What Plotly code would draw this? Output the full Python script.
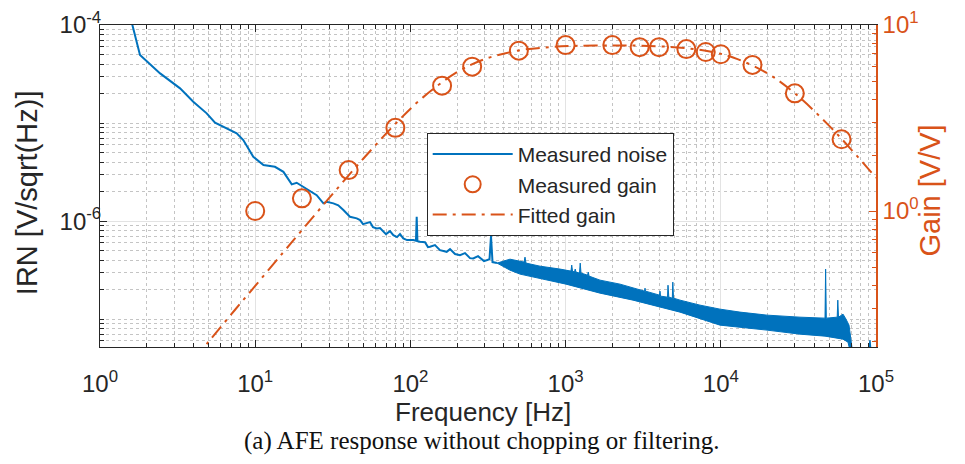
import plotly.graph_objects as go

# ---------------- data ----------------
noise_freq = [1.55, 1.62, 1.81, 2.44, 3.28, 3.99, 4.87, 5.51, 6.55, 7.60, 8.38, 9.72,
              11.3, 13.4, 15.2, 17.2, 18.5, 20.4, 24.9, 27.5, 28.9, 31.9, 34.3, 37.0,
              40.8, 45.1, 47.4, 49.5, 52.3, 54.9, 57.4, 60.7, 63.7, 66.9, 69.6, 73.9,
              77.6, 82.0, 85.7, 90.0, 95.1, 104.4, 108.6, 109.8, 111.0, 115.3, 124.2,
              129.8, 133.8, 144.0, 155.1, 171.3, 180.0, 193.9, 208.7, 224.8, 242.1,
              254.2, 272.7, 298.1, 310.1, 323.4, 330.6, 338.1, 361.4]
noise_irn = [1.3e-4, 1.0e-4, 4.94e-5, 3.21e-5, 2.26e-5, 1.65e-5, 1.256e-5, 1.007e-5,
             8.83e-6, 7.85e-6, 6.71e-6, 4.53e-6, 3.73e-6, 3.58e-6, 3.18e-6, 2.37e-6,
             2.46e-6, 2.24e-6, 1.84e-6, 1.516e-6, 1.574e-6, 1.516e-6, 1.45e-6, 1.295e-6,
             1.107e-6, 1.066e-6, 1.024e-6, 9.32e-7, 9.47e-7, 9.77e-7, 8.69e-7, 8.42e-7,
             8.48e-7, 7.78e-7, 7.37e-7, 7.91e-7, 7.20e-7, 6.87e-7, 7.37e-7, 6.66e-7,
             6.40e-7, 6.40e-7, 6.30e-7, 1.107e-6, 6.25e-7, 6.15e-7, 6.10e-7, 5.43e-7,
             5.47e-7, 5.69e-7, 5.06e-7, 4.86e-7, 5.18e-7, 4.61e-7, 4.50e-7, 4.72e-7,
             4.19e-7, 4.16e-7, 4.39e-7, 3.91e-7, 4.00e-7, 4.09e-7, 7.03e-7, 3.82e-7,
             3.73e-7]

# upper / lower edge of the dense noise band (with the visible spurs)
band_top_freq = [361.4, 438.3, 539.5, 547.5, 555.7, 684.1, 920.3, 1083, 1095, 1108,
                 1141, 1153, 1167, 1229, 1242, 1257, 1384, 1401, 1415, 1666, 2241,
                 2719, 3225, 3249, 3273, 4027, 4057, 4088, 4535, 4569, 4624, 4870,
                 4906, 4957, 5460, 7345, 9881, 13290, 19850, 32380, 46930, 47350,
                 47840, 56230, 56740, 57330, 61310, 64090, 66990, 71080]
band_top_irn = [3.73e-7, 4.09e-7, 3.82e-7, 4.29e-7, 3.73e-7, 3.47e-7, 3.24e-7, 3.09e-7,
                3.56e-7, 3.09e-7, 3.02e-7, 3.24e-7, 3.02e-7, 2.95e-7, 3.73e-7, 2.95e-7,
                2.81e-7, 3.02e-7, 2.75e-7, 2.50e-7, 2.276e-7, 2.07e-7, 1.93e-7, 2.07e-7,
                1.93e-7, 1.758e-7, 1.93e-7, 1.717e-7, 1.677e-7, 2.22e-7, 1.677e-7,
                1.638e-7, 2.385e-7, 1.638e-7, 1.563e-7, 1.39e-7, 1.265e-7, 1.18e-7,
                1.099e-7, 1.048e-7, 1.024e-7, 3.24e-7, 1.024e-7, 1.048e-7, 1.563e-7,
                1.048e-7, 1.125e-7, 1.0e-7, 8.69e-8, 4.3e-8]
band_bot_freq = [361.4, 438.3, 508.4, 1006, 1666, 2719, 5460, 9881, 19850, 32380,
                 46930, 61310, 66010, 69010]
band_bot_irn = [3.73e-7, 3.16e-7, 2.88e-7, 2.276e-7, 1.842e-7, 1.563e-7, 1.179e-7,
                8.69e-8, 7.73e-8, 7.03e-8, 6.71e-8, 6.25e-8, 5.82e-8, 4.3e-8]
noise_tail_freq = [90000, 91400, 92800]
noise_tail_irn = [4.5e-8, 6.1e-8, 4.5e-8]

gain_freq = [10, 20, 40, 80, 160, 250, 500, 1000, 2000, 3000, 4000, 6000, 8000,
             10000, 16000, 30000, 60000]
gain_meas = [1.0, 1.17, 1.66, 2.8, 4.72, 5.97, 7.28, 7.8, 7.8, 7.6, 7.6, 7.42, 7.16,
             6.96, 6.1, 4.29, 2.43]

fit_freq = [4, 5, 7, 10, 15, 20, 30, 50, 80, 120, 200, 300, 500, 800, 1200, 2000,
            3000, 5000, 8000, 12000, 20000, 30000, 50000, 70000, 100000]
fit_gain = [0.159, 0.198, 0.278, 0.396, 0.593, 0.789, 1.176, 1.922, 2.94, 4.07, 5.58,
            6.55, 7.30, 7.61, 7.73, 7.77, 7.74, 7.60, 7.27, 6.69, 5.49, 4.29, 2.87,
            2.12, 1.51]

x_tick_vals = [1, 10, 100, 1000, 10000, 100000]
x_tick_text = ["10<sup>0</sup>", "10<sup>1</sup>", "10<sup>2</sup>", "10<sup>3</sup>",
               "10<sup>4</sup>", "10<sup>5</sup>"]
yl_tick_vals = [1e-6, 1e-4]
yl_tick_text = ["10<sup>-6</sup>", "10<sup>-4</sup>"]
yr_tick_vals = [1, 10]
yr_tick_text = ["10<sup>0</sup>", "10<sup>1</sup>"]

x_title = "Frequency [Hz]"
yl_title = "IRN [V/sqrt(Hz)]"
yr_title = "Gain [V/V]"
caption = "(a) AFE response without chopping or filtering."

# ---------------- styling ----------------
BLUE = "#0072BD"
ORANGE = "#D95319"
AX = "#262626"
FONT = "Liberation Sans"

fig = go.Figure()

fig.add_trace(go.Scatter(x=noise_freq, y=noise_irn, mode="lines", name="Measured noise",
                         line=dict(color=BLUE, width=2), yaxis="y"))
fig.add_trace(go.Scatter(x=band_top_freq + band_bot_freq[::-1],
                         y=band_top_irn + band_bot_irn[::-1],
                         mode="lines", fill="toself", fillcolor=BLUE,
                         line=dict(color=BLUE, width=1), showlegend=False,
                         hoverinfo="skip", yaxis="y"))
fig.add_trace(go.Scatter(x=noise_tail_freq, y=noise_tail_irn, mode="lines",
                         line=dict(color=BLUE, width=1.5), showlegend=False,
                         hoverinfo="skip", yaxis="y"))
fig.add_trace(go.Scatter(x=gain_freq, y=gain_meas, mode="markers", name="Measured gain",
                         marker=dict(symbol="circle-open", size=18, color=ORANGE,
                                     line=dict(width=2, color=ORANGE)),
                         yaxis="y2"))
fig.add_trace(go.Scatter(x=fit_freq, y=fit_gain, mode="lines", name="Fitted gain",
                         line=dict(color=ORANGE, width=2, dash="14px,6px,3px,6px",
                                   shape="spline"),
                         yaxis="y2"))

x_minor = [k * 10 ** d for d in range(0, 5) for k in range(2, 10)]
yl_minor = [k * 10.0 ** d for d in range(-8, -4) for k in range(1, 10)
            if not (k == 1 and d in (-6,))]
yr_minor = [k * 10.0 ** d for d in range(-1, 1) for k in range(2, 10)]

# the page body adds an 8 px offset, so the figure is 8 px smaller and its
# left/top margins 8 px narrower to put the plot area at the reference position
fig.update_layout(
    width=957, height=456,
    margin=dict(l=92, r=89, t=17, b=117),
    paper_bgcolor="white", plot_bgcolor="white",
    font=dict(family=FONT, color=AX),
    showlegend=True,
    legend=dict(x=0.421, y=0.665, xanchor="left", yanchor="top",
                bgcolor="white", bordercolor=AX, borderwidth=1,
                font=dict(family=FONT, size=21, color=AX),
                itemwidth=80, tracegroupgap=0),
    xaxis=dict(type="log", range=[0, 5], tickmode="array", tickvals=x_tick_vals,
               ticktext=x_tick_text, ticks="inside", ticklen=7, tickcolor=AX,
               showline=True, linecolor=AX, linewidth=1, mirror="ticks",
               showgrid=True, gridcolor="#e3e3e3", gridwidth=1, zeroline=False,
               automargin=False, ticklabelstandoff=15,
               tickfont=dict(size=24, color=AX),
               minor=dict(tickmode="array", tickvals=x_minor, ticks="inside", ticklen=4,
                          tickcolor=AX, showgrid=True, griddash="dot",
                          gridcolor="#c4c4c4", gridwidth=1)),
    yaxis=dict(type="log", range=[-7.284, -4], tickmode="array", tickvals=yl_tick_vals,
               ticktext=yl_tick_text, ticks="inside", ticklen=7, tickcolor=AX,
               showline=True, linecolor=AX, linewidth=1,
               showgrid=True, gridcolor="#e3e3e3", gridwidth=1, zeroline=False,
               automargin=False, ticklabelstandoff=-7,
               tickfont=dict(size=24, color=AX),
               minor=dict(tickmode="array", tickvals=yl_minor, ticks="inside", ticklen=4,
                          tickcolor=AX, showgrid=True, griddash="dot",
                          gridcolor="#c4c4c4", gridwidth=1)),
    yaxis2=dict(type="log", range=[-0.731, 1], overlaying="y", side="right",
                tickmode="array", tickvals=yr_tick_vals, ticktext=yr_tick_text,
                ticks="inside", ticklen=7, tickcolor=ORANGE,
                showline=True, linecolor=ORANGE, linewidth=1.5,
                showgrid=False, zeroline=False, automargin=False,
                tickfont=dict(size=24, color=ORANGE),
                minor=dict(tickmode="array", tickvals=yr_minor, ticks="inside", ticklen=4,
                           tickcolor=ORANGE, showgrid=False)),
    annotations=[
        dict(text=x_title, xref="paper", yref="paper", x=0.4936, y=-0.203,
             xanchor="center", yanchor="middle", showarrow=False,
             font=dict(family=FONT, size=26, color=AX)),
        dict(text=yl_title, xref="paper", yref="paper", x=-0.094, y=0.478,
             xanchor="center", yanchor="middle", showarrow=False, textangle=-90,
             font=dict(family=FONT, size=29, color=AX)),
        dict(text=yr_title, xref="paper", yref="paper", x=1.07, y=0.487,
             xanchor="center", yanchor="middle", showarrow=False, textangle=-90,
             font=dict(family=FONT, size=29, color=ORANGE)),
        dict(text=caption, xref="paper", yref="paper", x=0.492, y=-0.292,
             xanchor="center", yanchor="middle", showarrow=False,
             font=dict(family="Liberation Serif", size=25, color="#111111")),
    ],
)

fig.write_html("out.html")
